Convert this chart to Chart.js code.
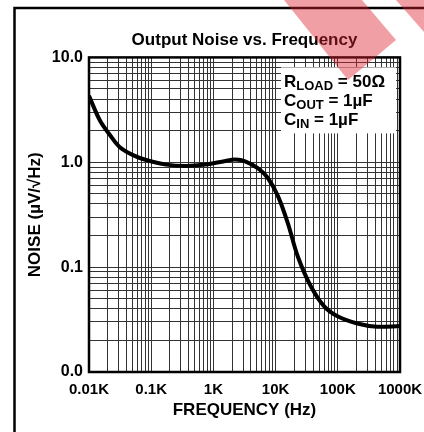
<!DOCTYPE html>
<html>
<head>
<meta charset="utf-8">
<script src="https://cdn.jsdelivr.net/npm/chart.js@4.4.1/dist/chart.umd.min.js"></script>
<style>
  html, body { margin: 0; padding: 0; background: #fff; }
  .wrap { width: 424px; height: 432px; position: relative; }
</style>
</head>
<body>
<div class="wrap"><canvas id="noiseChart"></canvas></div>
<script>
// values (Hz, uV/rtHz)
const freqHz = [10, 15, 22, 31, 51, 83, 173, 360, 750, 1560, 2250, 3240, 5300, 7600, 11000, 15800, 22900, 37200, 61000, 99000, 206000, 430000, 1000000];
const noise = [4.3, 2.5, 1.8, 1.4, 1.17, 1.05, 0.95, 0.92, 0.95, 1.03, 1.06, 1.02, 0.87, 0.70, 0.47, 0.26, 0.125, 0.065, 0.042, 0.034, 0.029, 0.027, 0.0275];
const xDecades = [10, 100, 1000, 10000, 100000, 1000000];
const yDecades = [0.01, 0.1, 1, 10];
const noteLines = [["R", "LOAD", " = 50\u03A9"], ["C", "OUT", " = 1\u00B5F"], ["C", "IN", " = 1\u00B5F"]];

const FONT = "'Liberation Sans', Arial, Helvetica, sans-serif";

function logTicks(decades) {
  const t = [];
  for (let i = 0; i < decades.length - 1; i++) {
    for (let m = 1; m < 10; m++) t.push({ value: decades[i] * m });
  }
  t.push({ value: decades[decades.length - 1] });
  return t;
}

function isDecade(v, decades) {
  return decades.some(d => Math.abs(v / d - 1) < 1e-6);
}

const frame = {
  id: "frame",
  afterDraw(chart) {
    const ctx = chart.ctx;
    const a = chart.chartArea;
    ctx.save();
    // plot border
    ctx.strokeStyle = "#000";
    ctx.lineWidth = 2.5;
    ctx.strokeRect(a.left, a.top, a.right - a.left, a.bottom - a.top);

    // outer frame (left + top)
    ctx.beginPath();
    ctx.moveTo(14.5, 432);
    ctx.lineTo(14.5, 8);
    ctx.lineTo(424, 8);
    ctx.stroke();

    // conditions box
    const bx = a.right - 119, by = a.top + 10;
    ctx.fillStyle = "#fff";
    ctx.fillRect(bx, by, 115, 66);
    ctx.fillStyle = "#000";
    ctx.textBaseline = "alphabetic";
    noteLines.forEach((ln, i) => {
      let x = bx + 3;
      const y = by + 20 + i * 19;
      ctx.font = "bold 17px " + FONT;
      ctx.fillText(ln[0], x, y);
      x += ctx.measureText(ln[0]).width;
      ctx.font = "bold 13px " + FONT;
      ctx.fillText(ln[1], x, y + 3);
      x += ctx.measureText(ln[1]).width;
      ctx.font = "bold 17px " + FONT;
      ctx.fillText(ln[2], x, y);
    });

    // red mark in the corner
    ctx.fillStyle = "rgba(220,34,46,0.43)";
    ctx.beginPath();
    ctx.moveTo(284, 0);
    ctx.lineTo(362, 0);
    ctx.lineTo(396, 40);
    ctx.lineTo(348, 80);
    ctx.closePath();
    ctx.fill();
    ctx.beginPath();
    ctx.moveTo(396, 0);
    ctx.lineTo(424, 0);
    ctx.lineTo(424, 32);
    ctx.closePath();
    ctx.fill();
    ctx.restore();
  }
};

const chartEl = document.getElementById("noiseChart");

var noiseChart = new Chart(chartEl, {
  type: "line",
  data: {
    datasets: [
      {
        label: "Output noise",
        data: freqHz.map((f, i) => ({ x: f, y: noise[i] })),
        borderColor: "#000",
        borderWidth: 4,
        pointRadius: 0,
        tension: 0.35,
        fill: false,
      },
    ],
  },
  options: {
    responsive: true,
    maintainAspectRatio: false,
    animation: false,
    devicePixelRatio: 1,
    layout: {
      padding: { left: 19, right: 0, top: 20, bottom: 8 },
    },
    scales: {
      x: {
        type: "logarithmic",
        min: 10,
        max: 1000000,
        afterBuildTicks: (s) => { s.ticks = logTicks(xDecades); },
        afterFit: (s) => { s.height = 52; s.paddingLeft = 0; s.paddingRight = 24; },
        grid: { color: "#333", lineWidth: 1, drawTicks: false },
        border: { display: false },
        ticks: {
          autoSkip: false,
          maxRotation: 0,
          padding: 9,
          color: "#000",
          font: { family: FONT, size: 15, weight: "bold" },
          callback: (v) => isDecade(v, xDecades) ? (v / 1000) + "K" : "",
        },
        title: {
          display: true,
          text: "FREQUENCY (Hz)",
          color: "#000",
          font: { family: FONT, size: 17, weight: "bold" },
          padding: { top: 0, bottom: 3 },
        },
      },
      y: {
        type: "logarithmic",
        min: 0.01,
        max: 10,
        afterBuildTicks: (s) => { s.ticks = logTicks(yDecades); },
        afterFit: (s) => { s.width = 70; },
        grid: { color: "#333", lineWidth: 1, drawTicks: false },
        border: { display: false },
        ticks: {
          autoSkip: false,
          padding: 6,
          color: "#000",
          font: { family: FONT, size: 16, weight: "bold" },
          callback: (v) => isDecade(v, yDecades) ? v.toFixed(1) : "",
        },
        title: {
          display: true,
          text: "NOISE (\u00B5V/\u221AHz)",
          color: "#000",
          font: { family: FONT, size: 17, weight: "bold" },
          padding: { top: 6, bottom: 0 },
        },
      },
    },
    plugins: {
      legend: { display: false },
      tooltip: { enabled: false },
      title: {
        display: true,
        fullSize: false,
        text: "Output Noise vs. Frequency",
        color: "#000",
        font: { family: FONT, size: 17, weight: "bold" },
        padding: { top: 10, bottom: 7 },
      },
    },
  },
  plugins: [frame],
});
</script>
</body>
</html>
